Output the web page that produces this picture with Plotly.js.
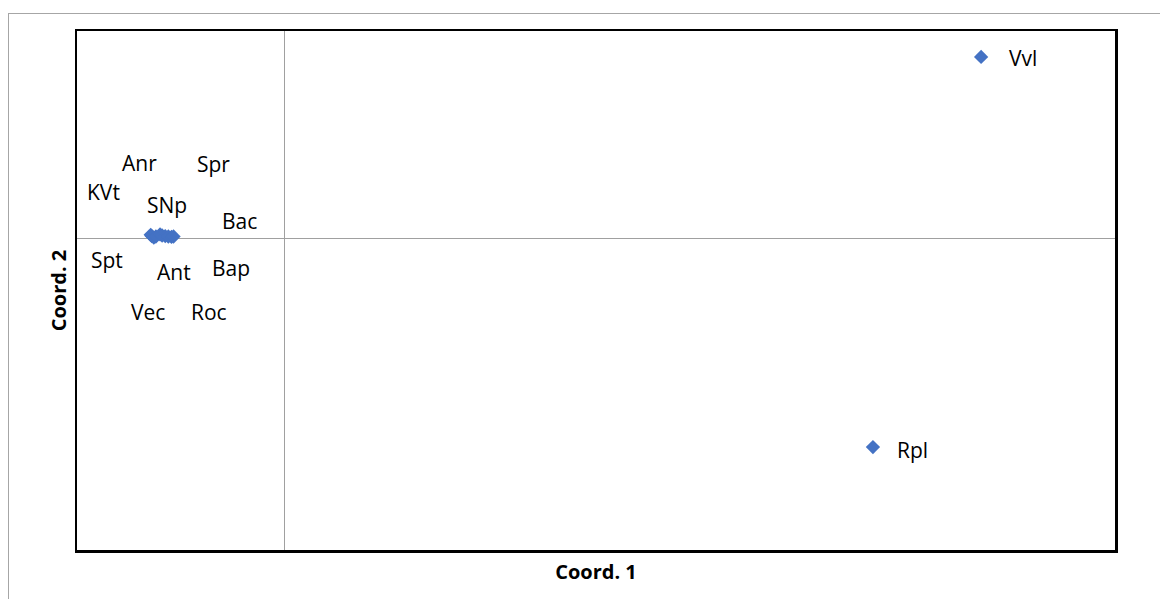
<!DOCTYPE html>
<html>
<head>
<meta charset="utf-8">
<script src="https://cdn.plot.ly/plotly-3.0.1.min.js"></script>
<style>
  html, body { margin: 0; padding: 0; background: #fff; }
  #frame { position: absolute; left: 8px; top: 13px; width: 1160px; height: 600px;
           border-top: 1px solid #a6a6a6; border-left: 1px solid #a6a6a6; }
  #chart { position: absolute; left: 0; top: 0; width: 1160px; height: 599px; }
</style>
</head>
<body>
<div id="frame"></div>
<div id="chart"></div>
<script>
// Data (PCoA-style coordinates)
const labels = ["Anr", "KVt", "Spt", "Vec", "SNp", "Ant", "Roc", "Spr", "Bap", "Bac", "Vvl", "Rpl"];
const coord1 = [-0.0645, -0.0640, -0.0630, -0.0620, -0.0600, -0.0590, -0.0575, -0.0560, -0.0545, -0.0535, 0.3355, 0.2834];
const coord2 = [0.0018, 0.0012, 0.0005, 0.0010, 0.0020, 0.0015, 0.0012, 0.0010, 0.0008, 0.0010, 0.0875, -0.1004];

// Label placement (pixel offsets from each point, as the labels were dragged in the original)
const labelShift = {
  Anr: [-11, 72], KVt: [-48, 44], Spt: [-47, -22], Vec: [-8, -75], SNp: [7, 29],
  Ant: [12, -37], Roc: [44, -76], Spr: [45, 73], Bap: [60, -31], Bac: [66, 16],
  Vvl: [42, -1], Rpl: [40, -3]
};

const FONT = "Open Sans, Liberation Sans, sans-serif";

const trace = {
  x: coord1, y: coord2, mode: "markers", type: "scatter",
  marker: { symbol: "diamond", size: 11, color: "#4472C4" },
  hoverinfo: "text", text: labels
};

const annotations = labels.map((lab, i) => ({
  x: coord1[i], y: coord2[i], xref: "x", yref: "y",
  text: lab, showarrow: false,
  xshift: labelShift[lab][0], yshift: labelShift[lab][1],
  font: { family: FONT, size: 21, color: "#000" }
}));

const layout = {
  width: 1160, height: 599,
  margin: { l: 77, r: 45, t: 31, b: 49 },
  paper_bgcolor: "rgba(0,0,0,0)", plot_bgcolor: "#fff",
  showlegend: false,
  xaxis: {
    range: [-0.1, 0.4], showgrid: false, showticklabels: false, ticks: "",
    zeroline: true, zerolinecolor: "#a0a0a0", zerolinewidth: 1.3,
    showline: true, mirror: true, linecolor: "#000", linewidth: 2.5,
    title: { text: "<b>Coord. 1</b>", font: { family: FONT, size: 20, color: "#000" }, standoff: 14 }
  },
  yaxis: {
    range: [-0.15, 0.1], showgrid: false, showticklabels: false, ticks: "",
    zeroline: true, zerolinecolor: "#a0a0a0", zerolinewidth: 1.3,
    showline: true, mirror: true, linecolor: "#000", linewidth: 2.5,
    title: { text: "<b>Coord. 2</b>", font: { family: FONT, size: 20, color: "#000" }, standoff: 3 }
  },
  annotations: annotations
};

Plotly.newPlot("chart", [trace], layout, { displayModeBar: false, staticPlot: true });
</script>
</body>
</html>
